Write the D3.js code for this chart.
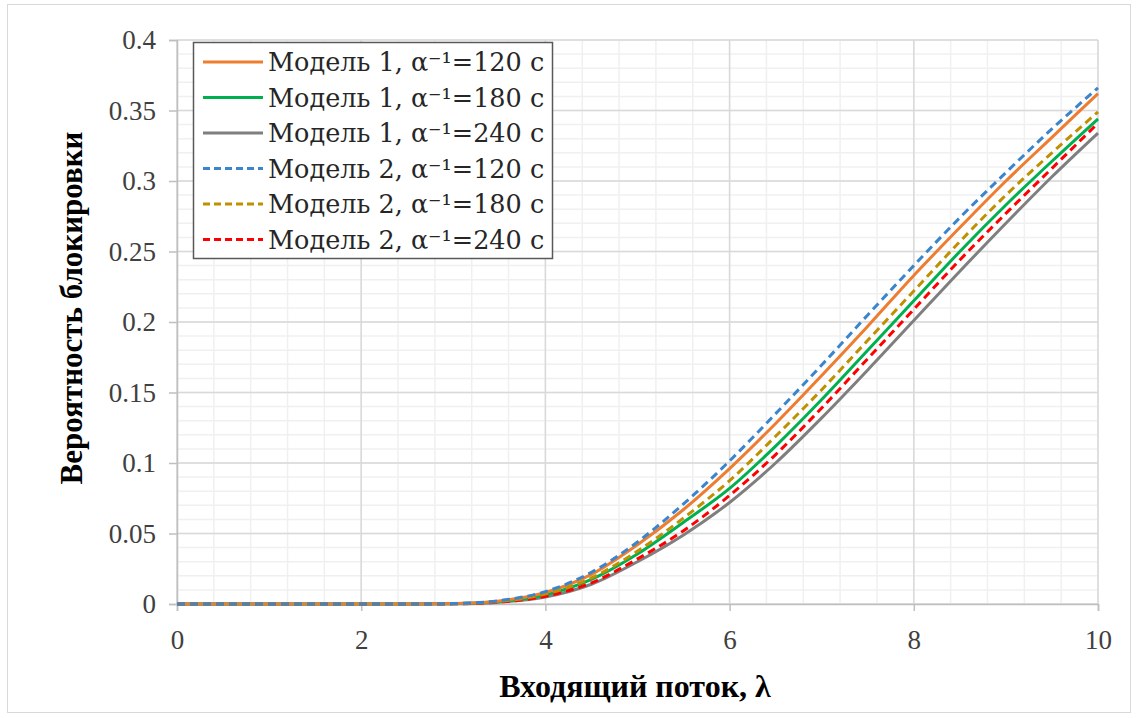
<!DOCTYPE html>
<html>
<head>
<meta charset="utf-8">
<script src="https://cdn.jsdelivr.net/npm/d3@7"></script>
<style>
  html, body { margin: 0; padding: 0; background: #fff; }
  svg { display: block; }
</style>
</head>
<body>
<svg id="chart"></svg>
<script>
// x values (incoming flow, lambda)
const lambdas = [0, 0.5, 1, 1.5, 2, 2.5, 3, 3.5, 4, 4.5, 5, 5.5, 6, 6.5, 7, 7.5, 8, 8.5, 9, 9.5, 10];

// blocking probability
const m1a120 = [0, 0, 0, 0, 0, 0, 0.0003, 0.0022, 0.0082, 0.021, 0.042, 0.067, 0.096, 0.128, 0.162, 0.197, 0.233, 0.267, 0.300, 0.331, 0.362];
const m1a180 = [0, 0, 0, 0, 0, 0, 0.0002, 0.0017, 0.0065, 0.0175, 0.0355, 0.058, 0.082, 0.112, 0.145, 0.180, 0.215, 0.250, 0.283, 0.314, 0.344];
const m1a240 = [0, 0, 0, 0, 0, 0, 0.0001, 0.0013, 0.005, 0.014, 0.030, 0.049, 0.072, 0.100, 0.132, 0.166, 0.201, 0.236, 0.270, 0.303, 0.334];
const m2a120 = [0, 0, 0, 0, 0, 0, 0.0003, 0.0024, 0.0088, 0.0225, 0.044, 0.071, 0.1015, 0.135, 0.1695, 0.205, 0.240, 0.274, 0.306, 0.337, 0.366];
const m2a180 = [0, 0, 0, 0, 0, 0, 0.0002, 0.0018, 0.007, 0.0185, 0.0375, 0.061, 0.0875, 0.119, 0.152, 0.187, 0.222, 0.257, 0.290, 0.320, 0.349];
const m2a240 = [0, 0, 0, 0, 0, 0, 0.0001, 0.0014, 0.0055, 0.015, 0.032, 0.052, 0.077, 0.106, 0.139, 0.174, 0.209, 0.244, 0.277, 0.309, 0.341];

const seriesNames = [
  "Модель 1, α⁻¹=120 c",
  "Модель 1, α⁻¹=180 c",
  "Модель 1, α⁻¹=240 c",
  "Модель 2, α⁻¹=120 c",
  "Модель 2, α⁻¹=180 c",
  "Модель 2, α⁻¹=240 c"
];
const seriesValues = [m1a120, m1a180, m1a240, m2a120, m2a180, m2a240];
const seriesColors = ["#ED7D31", "#00B050", "#7F7F7F", "#3A85CC", "#BF9000", "#FF0000"];
const seriesDashed = [false, false, false, true, true, true];

const xTicks = [0, 2, 4, 6, 8, 10];
const yTicks = [0, 0.05, 0.1, 0.15, 0.2, 0.25, 0.3, 0.35, 0.4];
const yTickLabels = ["0", "0.05", "0.1", "0.15", "0.2", "0.25", "0.3", "0.35", "0.4"];

const serif = '"Liberation Serif", "Times New Roman", serif';

const W = 1138, H = 718;
const margin = { top: 40, right: 40, bottom: 114, left: 177 };
const width = W - margin.left - margin.right;
const height = H - margin.top - margin.bottom;

const svg = d3.select('#chart')
  .attr('width', W)
  .attr('height', H);

// outer frame
svg.append('rect')
  .attr('x', 7.5).attr('y', 4.5)
  .attr('width', W - 15).attr('height', H - 10)
  .attr('fill', '#fff')
  .attr('stroke', '#d9d9d9')
  .attr('stroke-width', 1);

const g = svg.append('g')
  .attr('transform', `translate(${margin.left},${margin.top})`);

const xScale = d3.scaleLinear().domain([0, 10]).range([0, width]);
const yScale = d3.scaleLinear().domain([0, 0.4]).range([height, 0]);

// minor grid
const xMinor = d3.range(0, 10.001, 0.4);
const yMinor = d3.range(0, 0.4001, 0.01);
g.append('g').selectAll('line')
  .data(yMinor)
  .enter().append('line')
  .attr('x1', 0).attr('x2', width)
  .attr('y1', d => yScale(d)).attr('y2', d => yScale(d))
  .attr('stroke', '#f0f0f0').attr('stroke-width', 1.5);
g.append('g').selectAll('line')
  .data(xMinor)
  .enter().append('line')
  .attr('y1', 0).attr('y2', height)
  .attr('x1', d => xScale(d)).attr('x2', d => xScale(d))
  .attr('stroke', '#f0f0f0').attr('stroke-width', 1.5);

// major grid
g.append('g').selectAll('line')
  .data(yTicks)
  .enter().append('line')
  .attr('x1', 0).attr('x2', width)
  .attr('y1', d => yScale(d)).attr('y2', d => yScale(d))
  .attr('stroke', '#d9d9d9').attr('stroke-width', 1.5);
g.append('g').selectAll('line')
  .data(xTicks)
  .enter().append('line')
  .attr('y1', 0).attr('y2', height)
  .attr('x1', d => xScale(d)).attr('x2', d => xScale(d))
  .attr('stroke', '#d9d9d9').attr('stroke-width', 1.5);

// axes
const xAxis = d3.axisBottom(xScale)
  .tickValues(xTicks)
  .tickFormat(d3.format('d'))
  .tickSize(7)
  .tickPadding(19);
const yAxis = d3.axisLeft(yScale)
  .tickValues(yTicks)
  .tickFormat((d, i) => yTickLabels[i])
  .tickSize(8)
  .tickPadding(13);

const gx = g.append('g')
  .attr('transform', `translate(0,${height})`)
  .call(xAxis);
const gy = g.append('g')
  .call(yAxis);

[gx, gy].forEach(a => {
  a.attr('font-family', serif).attr('font-size', 27);
  a.select('.domain').attr('stroke', '#bfbfbf').attr('stroke-width', 1.5);
  a.selectAll('.tick line').attr('stroke', '#bfbfbf').attr('stroke-width', 1.5);
  a.selectAll('.tick text')
    .attr('fill', '#404040')
    .style('font-family', serif)
    .style('font-size', '27px');
});

// series
const line = d3.line()
  .x((d, i) => xScale(lambdas[i]))
  .y(d => yScale(d))
  .curve(d3.curveMonotoneX);

const order = [2, 1, 0, 5, 4, 3];
order.forEach(k => {
  g.append('path')
    .datum(seriesValues[k])
    .attr('d', line)
    .attr('fill', 'none')
    .attr('stroke', seriesColors[k])
    .attr('stroke-width', 3)
    .attr('stroke-dasharray', seriesDashed[k] ? '8,5' : null);
});

// axis titles
svg.append('text')
  .attr('x', 635)
  .attr('y', 697)
  .attr('text-anchor', 'middle')
  .style('font-family', serif)
  .style('font-weight', 'bold')
  .style('font-size', '32px')
  .attr('fill', '#000')
  .text('Входящий поток, λ');

svg.append('text')
  .attr('transform', `translate(82,${margin.top + height / 2 - 14}) rotate(-90)`)
  .attr('text-anchor', 'middle')
  .style('font-family', serif)
  .style('font-weight', 'bold')
  .style('font-size', '31px')
  .attr('fill', '#000')
  .text('Вероятность блокировки');

// legend
const legend = svg.append('g').attr('transform', 'translate(193,42)');
legend.append('rect')
  .attr('x', 0.5).attr('y', 0.5)
  .attr('width', 359).attr('height', 216)
  .attr('fill', '#fff')
  .attr('stroke', '#595959')
  .attr('stroke-width', 1.5);

seriesNames.forEach((name, i) => {
  const cy = 20 + i * 35.5;
  legend.append('line')
    .attr('x1', 10).attr('x2', 70)
    .attr('y1', cy).attr('y2', cy)
    .attr('stroke', seriesColors[i])
    .attr('stroke-width', 3)
    .attr('stroke-dasharray', seriesDashed[i] ? '7,4' : null);
  legend.append('text')
    .attr('x', 75)
    .attr('y', cy + 9)
    .style('font-family', '"DejaVu Serif", "Liberation Serif", serif')
    .style('font-size', '25.5px')
    .attr('fill', '#262626')
    .text(name);
});
</script>
</body>
</html>
